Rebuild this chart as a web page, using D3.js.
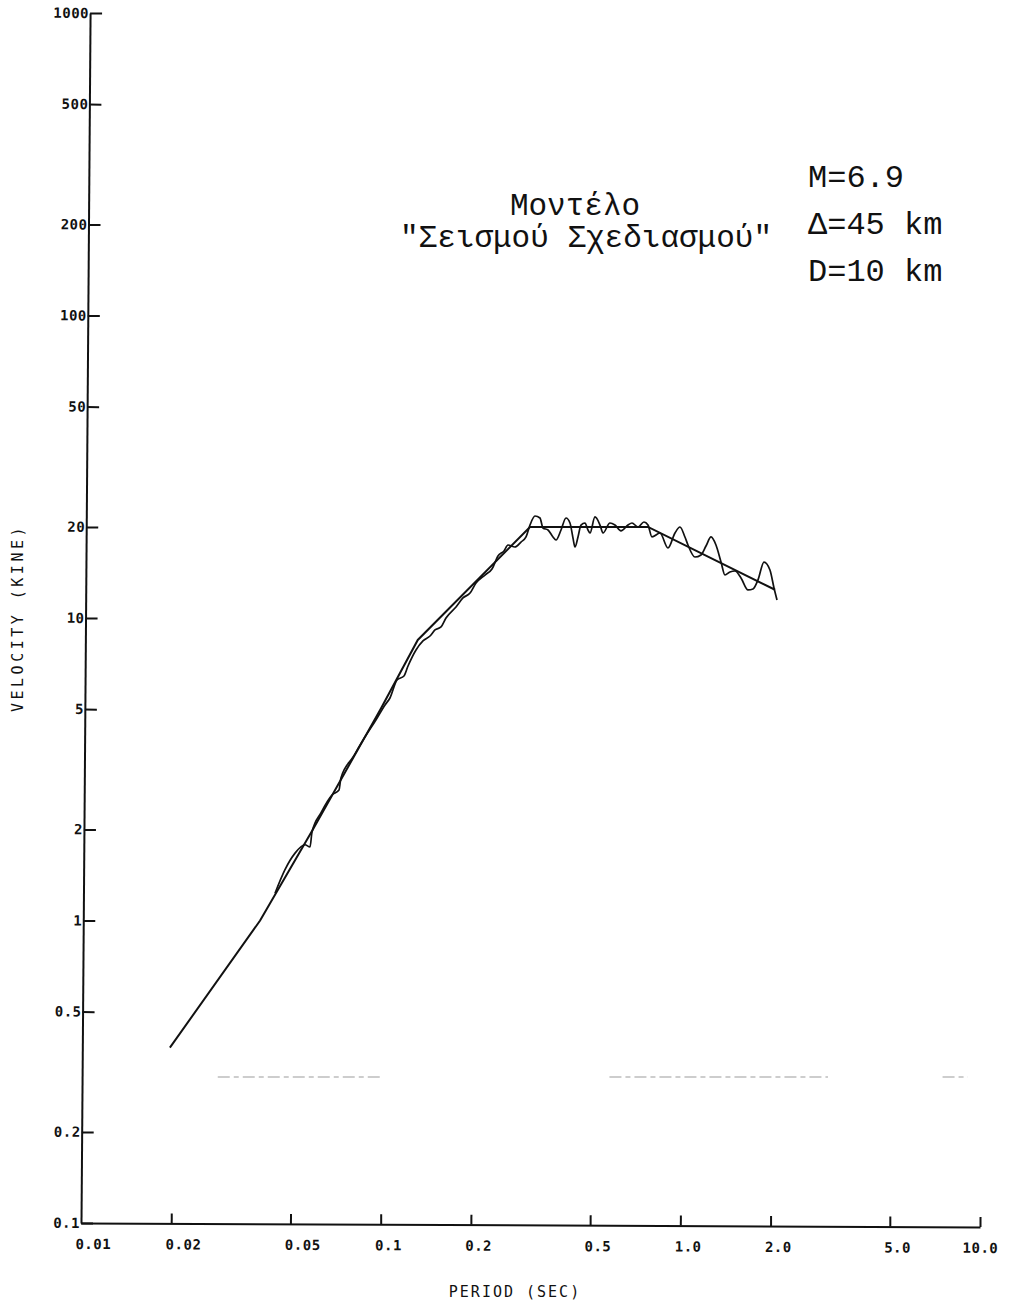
<!DOCTYPE html>
<html>
<head>
<meta charset="utf-8">
<script src="https://cdn.jsdelivr.net/npm/d3@7"></script>
<style>
  body { margin: 0; background: #fff; }
  svg text { fill: #111; }
  .tick text { font-family: "DejaVu Sans Mono", monospace; font-weight: bold; font-size: 14px; letter-spacing: 0.5px; }
</style>
</head>
<body>
<div class="chart"></div>
<script>
// smooth "design earthquake" spectrum, period (sec) vs velocity (kine)
var designPeriod   = [0.0198, 0.0396, 0.0594, 0.1, 0.133, 0.315, 0.78, 2.07];
var designVelocity = [0.38, 1.0, 2.0, 5.0, 8.46, 20, 20, 12.4];

// computed (wiggly) spectrum
var recordPeriod = [
  0.0444, 0.0479, 0.0518, 0.0559, 0.0581, 0.0590, 0.0632, 0.0688, 0.0726, 0.0737,
  0.0809, 0.0886, 0.0964, 0.1034, 0.1074, 0.1134, 0.1196, 0.1234, 0.1312, 0.1384,
  0.1461, 0.1518, 0.1590, 0.1652, 0.1784, 0.1882, 0.1987, 0.208, 0.2229, 0.2352,
  0.2463, 0.2579, 0.266, 0.2807, 0.2939, 0.3055, 0.315, 0.3273, 0.3401, 0.3481,
  0.3618, 0.3759, 0.3847, 0.3998, 0.4154, 0.4283, 0.4383, 0.4451, 0.4555, 0.4661,
  0.4806, 0.4918, 0.4995, 0.519, 0.5394, 0.5519, 0.5823, 0.6051, 0.6338, 0.6688,
  0.6897, 0.7222, 0.7563, 0.78, 0.8043, 0.8552, 0.9095, 0.9598, 0.9973, 1.036,
  1.0605, 1.119, 1.172, 1.218, 1.266, 1.315, 1.367, 1.409, 1.464, 1.522,
  1.594, 1.682, 1.748, 1.816, 1.902, 1.991, 2.054, 2.102];
var recordVelocity = [
  1.23, 1.47, 1.67, 1.78, 1.75, 1.96, 2.27, 2.60, 2.70, 2.96,
  3.47, 4.04, 4.60, 5.16, 5.44, 6.24, 6.43, 6.94, 7.84, 8.40,
  8.72, 9.13, 9.34, 10.0, 10.88, 11.65, 12.09, 13.05, 13.87, 14.52,
  16.03, 16.66, 17.43, 17.17, 17.83, 18.53, 20.29, 21.74, 21.41, 19.84,
  19.54, 18.53, 18.11, 19.54, 21.41, 20.61, 18.39, 17.17, 18.53, 20.29,
  20.61, 19.54, 19.10, 21.58, 20.29, 19.10, 20.61, 20.29, 19.40, 20.29,
  20.61, 19.99, 20.77, 20.29, 18.53, 19.10, 17.04, 19.10, 19.99, 18.53,
  17.43, 15.91, 16.16, 17.30, 18.53, 17.43, 15.31, 13.87, 14.20, 14.30,
  13.56, 12.38, 12.47, 13.36, 15.31, 14.41, 12.57, 11.47];

// faint broken line of the scan
var faintLevel = 0.304;
var faintFrom = [0.0286, 0.58, 7.5];
var faintTo   = [0.1016, 3.11, 9.1];

var xTicks = [0.01, 0.02, 0.05, 0.1, 0.2, 0.5, 1, 2, 5, 10];
var xTickLabels = ["0.01", "0.02", "0.05", "0.1", "0.2", "0.5", "1.0", "2.0", "5.0", "10.0"];
var yTicks = [0.1, 0.2, 0.5, 1, 2, 5, 10, 20, 50, 100, 200, 500, 1000];
var yTickLabels = ["0.1", "0.2", "0.5", "1", "2", "5", "10", "20", "50", "100", "200", "500", "1000"];

var titleLines = ["Μοντέλο", "\"Σεισμού Σχεδιασμού\""];
var notes = ["M=6.9", "Δ=45 km", "D=10 km"];

var width = 1014, height = 1308;
var plotLeft = 81, plotRight = 980, plotTop = 13, plotBottom = 1223;

var svg = d3.select(".chart").append("svg")
    .attr("width", width)
    .attr("height", height);

var x = d3.scaleLog().domain([0.01, 10]).range([plotLeft, plotRight]);
var y = d3.scaleLog().domain([0.1, 1000]).range([plotBottom, plotTop]);

// the scan is a touch rotated, so tilt the axes a little
var xAxis = d3.axisBottom(x)
    .tickValues(xTicks)
    .tickFormat(function(d, i) { return xTickLabels[i]; })
    .tickSizeInner(-10)
    .tickSizeOuter(0)
    .tickPadding(16);

var gx = svg.append("g")
    .attr("transform", "rotate(0.25," + plotLeft + "," + plotBottom + ") translate(0," + plotBottom + ")")
    .call(xAxis);
gx.select(".domain").attr("stroke", "#111").attr("stroke-width", 2);
gx.selectAll(".tick line").attr("stroke", "#111").attr("stroke-width", 2)
  .attr("display", function(d) { return d == 0.01 ? "none" : null; });
gx.selectAll(".tick text")
  .attr("text-anchor", function(d) { return d == 10 ? "middle" : "start"; })
  .attr("dx", function(d) { return d == 10 ? 0 : -6; });

var yAxis = d3.axisLeft(y)
    .tickValues(yTicks)
    .tickFormat(function(d, i) { return yTickLabels[i]; })
    .tickSizeInner(-12)
    .tickSizeOuter(0)
    .tickPadding(1);

var gy = svg.append("g")
    .attr("transform", "rotate(0.43," + plotLeft + "," + plotBottom + ") translate(" + plotLeft + ",0)")
    .call(yAxis);
gy.select(".domain").attr("stroke", "#111").attr("stroke-width", 2);
gy.selectAll(".tick line").attr("stroke", "#111").attr("stroke-width", 2);

// faint dashes
svg.append("g").selectAll("line")
  .data(faintFrom)
  .enter().append("line")
    .attr("x1", function(d) { return x(d); })
    .attr("x2", function(d, i) { return x(faintTo[i]); })
    .attr("y1", y(faintLevel))
    .attr("y2", y(faintLevel))
    .attr("stroke", "#bdbdbd")
    .attr("stroke-width", 1.5)
    .attr("stroke-dasharray", "12,4,5,4");

var design = designPeriod.map(function(t, i) { return [t, designVelocity[i]]; });
var record = recordPeriod.map(function(t, i) { return [t, recordVelocity[i]]; });

var line = d3.line()
    .x(function(d) { return x(d[0]); })
    .y(function(d) { return y(d[1]); });

svg.append("path")
    .datum(design)
    .attr("fill", "none")
    .attr("stroke", "#111")
    .attr("stroke-width", 2)
    .attr("d", line);

svg.append("path")
    .datum(record)
    .attr("fill", "none")
    .attr("stroke", "#111")
    .attr("stroke-width", 1.7)
    .attr("stroke-linejoin", "round")
    .attr("d", line.curve(d3.curveMonotoneX));

// axis titles
svg.append("text")
    .attr("transform", "translate(23,618) rotate(-90)")
    .attr("text-anchor", "middle")
    .style("font-family", "'DejaVu Sans Mono', monospace")
    .style("font-size", "15px")
    .style("letter-spacing", "3.5px")
    .text("VELOCITY (KINE)");

svg.append("text")
    .attr("x", 515)
    .attr("y", 1297)
    .attr("text-anchor", "middle")
    .style("font-family", "'DejaVu Sans Mono', monospace")
    .style("font-size", "15px")
    .style("letter-spacing", "2px")
    .text("PERIOD (SEC)");

// annotation
var title = svg.append("text")
    .attr("text-anchor", "middle")
    .style("font-family", "'Liberation Mono', 'Courier New', monospace")
    .style("font-size", "31px");
title.selectAll("tspan")
  .data(titleLines)
  .enter().append("tspan")
    .attr("x", function(d, i) { return i == 0 ? 575 : 586; })
    .attr("y", function(d, i) { return 215 + i * 32; })
    .text(function(d) { return d; });

svg.append("g").selectAll("text")
  .data(notes)
  .enter().append("text")
    .attr("x", 808)
    .attr("y", function(d, i) { return 187 + i * 47; })
    .style("font-family", "'Liberation Mono', 'Courier New', monospace")
    .style("font-size", "32px")
    .text(function(d) { return d; });
</script>
</body>
</html>
